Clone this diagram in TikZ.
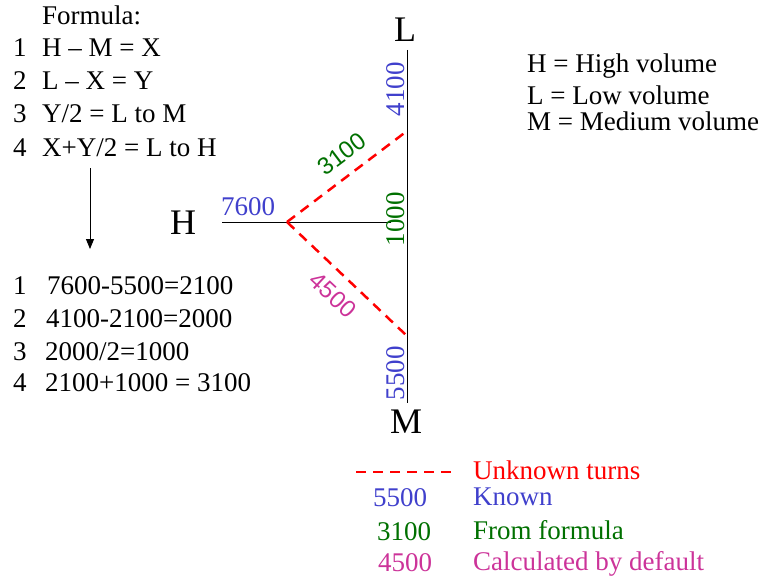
\documentclass[tikz,border=0pt]{standalone}
\usepackage{fontspec}
\setmainfont{Liberation Serif}
\newfontfamily\sansnum{Liberation Sans}
\usepackage{tikz}
\usetikzlibrary{arrows.meta}

\definecolor{knownblue}{RGB}{64,64,204}
\definecolor{formulagreen}{RGB}{0,112,0}
\definecolor{calcpink}{RGB}{204,51,153}

\begin{document}
\begin{tikzpicture}[
    x=1pt, y=-1pt,
    every node/.style={inner sep=0pt, font=\fontsize{27}{32}\selectfont},
    txt/.style={anchor=base west},
    stepnum/.style={anchor=base west},
    bigletter/.style={font=\fontsize{36}{40}\selectfont},
    known/.style={text=knownblue},
    fromformula/.style={text=formulagreen},
    calcdefault/.style={text=calcpink},
    sidelabel/.style={rotate=90},
    slanted/.style={font=\sansnum\fontsize{24}{28}\selectfont},
    unknown/.style={draw=red, line width=2.5pt, dash pattern=on 10pt off 7pt},
    axis/.style={draw=black, line width=0.9pt}
]
\useasboundingbox (0,0) rectangle (760,578);

% formula block
\node[txt] (title) at (42,25) {Formula:};
\node[stepnum] (n1) at (13,57) {1};
\node[stepnum] (n2) at (13,89) {2};
\node[stepnum] (n3) at (13,122) {3};
\node[stepnum] (n4) at (13,156) {4};
\node[txt] (f1) at (42,57) {H -- M = X};
\node[txt] (f2) at (42,89) {L -- X = Y};
\node[txt] (f3) at (42,122) {Y/2 = L to M};
\node[txt] (f4) at (42,156) {X+Y/2 = L to H};

\coordinate (arrtop) at (90,168);
\coordinate (arrbot) at (90,249);
\draw[line width=0.9pt, -{Triangle[width=8pt,length=10pt]}] (arrtop) -- (arrbot);

% worked example
\node[stepnum] (m1) at (13,294) {1};
\node[stepnum] (m2) at (13,327) {2};
\node[stepnum] (m3) at (13,360) {3};
\node[stepnum] (m4) at (13,391) {4};
\node[txt] (e1) at (47,294) {7600-5500=2100};
\node[txt] (e2) at (46,327) {4100-2100=2000};
\node[txt] (e3) at (45,360) {2000/2=1000};
\node[txt] (e4) at (45,391) {2100+1000 = 3100};

% the three volumes
\node[bigletter] (H) at (183,223) {H};
\node[bigletter] (L) at (405,30) {L};
\node[bigletter] (M) at (406,422) {M};

\coordinate (ltop) at (407,50);
\coordinate (mbot) at (407,403);
\coordinate (hleft) at (222,222);
\coordinate (hub) at (287,222);
\coordinate (hend) at (391,222);
\coordinate (lmeet) at (407,131);
\coordinate (mmeet) at (406,335);

\draw[axis] (ltop) -- (mbot);
\draw[axis] (hleft) -- (hend);
\draw[unknown] (hub) -- (lmeet);
\draw[unknown] (hub) -- (mmeet);

\node[known] (hval) at (248,207) {7600};
\node[known, sidelabel] (lval) at (396,89) {4100};
\node[fromformula, sidelabel] (mid) at (396,219) {1000};
\node[known, sidelabel] (mval) at (396,373) {5500};
\node[fromformula, rotate=37, slanted] (lh) at (342,154) {3100};
\node[calcdefault, rotate=-43, slanted] (lm) at (333,295) {4500};

% key
\node[txt] (kh) at (527,73) {H = High volume};
\node[txt] (kl) at (527,104) {L = Low volume};
\node[txt] (km) at (527,130) {M = Medium volume};

\coordinate (dashl) at (356,472);
\coordinate (dashr) at (455,472);
\draw[unknown] (dashl) -- (dashr);
\node[txt, text=red] (ku) at (473,479) {Unknown turns};
\node[known, anchor=base] (k5500) at (400,506) {5500};
\node[txt, known] (kk) at (473,505) {Known};
\node[fromformula, anchor=base] (k3100) at (404,540) {3100};
\node[txt, fromformula] (kf) at (473,539) {From formula};
\node[calcdefault, anchor=base] (k4500) at (405,571) {4500};
\node[txt, calcdefault] (kc) at (473,570) {Calculated by default};
\end{tikzpicture}
\end{document}
